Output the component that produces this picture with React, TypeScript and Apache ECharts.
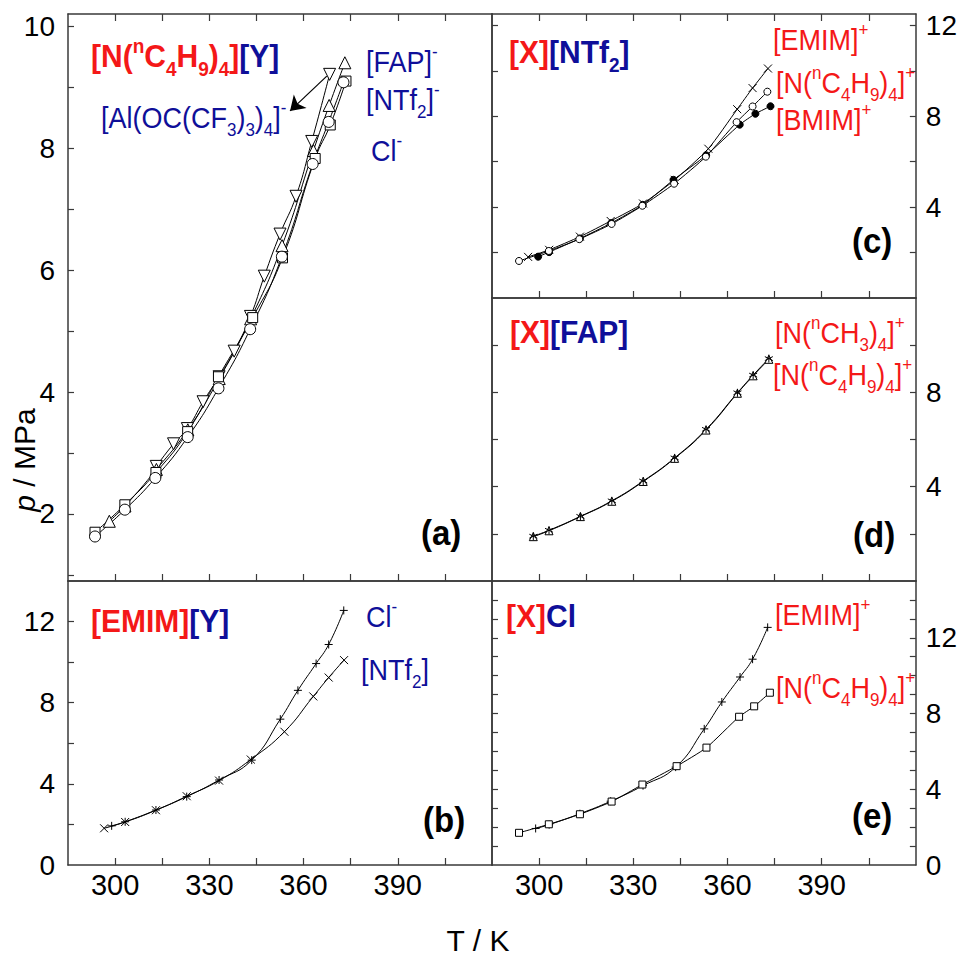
import { useEffect, useRef } from "react";
import * as echarts from "echarts";

const FONT = "'Liberation Sans', Arial, Helvetica, sans-serif";
const RED = "#f41818";
const BLUE = "#0f0f99";
const BLACK = "#000000";
const AXIS = "#3a3a3a";

// Temperature axis shared by all panels (K)
const T_MIN = 285;
const T_MAX = 420;
const T_TICKS = [300, 315, 330, 345, 360, 375, 390, 405];
const T_LABELS = [300, 330, 360, 390];

// Pressure axes (MPa) per panel
const P_A_RANGE = [0.9, 10.2];
const P_A_TICKS = [1, 2, 3, 4, 5, 6, 7, 8, 9, 10];
const P_A_LABELS = [2, 4, 6, 8, 10];
const P_B_RANGE = [0, 14];
const P_B_TICKS = [2, 4, 6, 8, 10, 12];
const P_B_LABELS = [0, 4, 8, 12];
const P_C_RANGE = [0, 12.5];
const P_C_TICKS = [2, 4, 6, 8, 10, 12];
const P_C_LABELS = [4, 8, 12];
const P_D_RANGE = [0, 12];
const P_D_TICKS = [2, 4, 6, 8, 10];
const P_D_LABELS = [4, 8];
const P_E_RANGE = [0, 15];
const P_E_TICKS = [1, 2, 3, 4, 5, 6, 7, 8, 9, 10, 11, 12, 13, 14];
const P_E_LABELS = [0, 4, 8, 12];

// [N(nC4H9)4][FAP]
const T_N4444_FAP = [298.15, 303.15, 313.15, 323.15, 333.15, 343.15, 353.15, 363.15, 368.15, 373.15];
const P_N4444_FAP = [1.88, 2.13, 2.73, 3.38, 4.22, 5.2, 6.4, 7.96, 8.7, 9.4];
// [N(nC4H9)4][NTf2]
const T_N4444_NTF2 = [293.6, 303.1, 312.8, 323.1, 332.9, 343.0, 353.1, 362.9, 368.0, 372.7];
const P_N4444_NTF2 = [1.63, 2.07, 2.59, 3.26, 4.06, 5.03, 6.22, 7.74, 8.43, 9.08];
// [N(nC4H9)4]Cl
const T_N4444_CL = [293.6, 303.1, 313.0, 323.1, 332.9, 343.8, 353.3, 363.7, 368.5, 373.5];
const P_N4444_CL = [1.7, 2.15, 2.68, 3.35, 4.25, 5.22, 6.2, 7.83, 8.38, 9.1];
// [N(nC4H9)4][Al(OC(CF3)3)4]
const T_N4444_AL = [313.1, 318.6, 323.0, 328.0, 333.1, 337.9, 343.1, 347.5, 352.5, 357.6, 362.6, 368.3];
const P_N4444_AL = [2.78, 3.15, 3.4, 3.84, 4.25, 4.67, 5.24, 5.9, 6.59, 7.21, 8.11, 9.21];
// [EMIM]Cl
const T_EMIM_CL = [298.9, 303.2, 313.0, 322.8, 333.1, 343.5, 352.6, 358.2, 364.0, 368.0, 372.8];
const P_EMIM_CL = [1.93, 2.13, 2.71, 3.37, 4.19, 5.17, 7.19, 8.61, 9.93, 10.87, 12.55];
// [EMIM][NTf2]
const T_EMIM_NTF2 = [296.5, 303.2, 313.0, 322.8, 333.1, 343.2, 353.9, 363.1, 368.0, 372.9];
const P_EMIM_NTF2 = [1.81, 2.12, 2.7, 3.39, 4.16, 5.2, 6.57, 8.31, 9.24, 10.1];
// [BMIM][NTf2]
const T_BMIM_NTF2 = [299.7, 303.2, 313.0, 323.0, 333.0, 342.8, 353.2, 363.9, 368.9, 373.7];
const P_BMIM_NTF2 = [1.82, 2.02, 2.62, 3.3, 4.1, 5.2, 6.28, 7.63, 8.11, 8.44];
// [N(nCH3)4][FAP]
const T_N1111_FAP = [298.15, 303.15, 313.15, 323.15, 333.15, 343.15, 353.15, 363.15, 368.15, 373.15];
const P_N1111_FAP = [1.9, 2.15, 2.74, 3.4, 4.24, 5.22, 6.43, 7.98, 8.73, 9.43];

// Marker shapes
const DOWN_TRI = "path://M0,0L20,0L10,17.3Z";
const CROSS = "path://M0,0L10,10M0,10L10,0";
const PLUS = "path://M5,0L5,10M0,5L10,5";
const STAR = "path://M5,0L5,10M0.67,2.5L9.33,7.5M0.67,7.5L9.33,2.5";

const pts = (T: number[], P: number[]) => T.map((t, i) => [t, P[i]]);

function curve(grid: number, T: number[], P: number[], symbol: string, size: number, fill: string, smooth: number | boolean) {
  return {
    type: "line",
    xAxisIndex: grid * 2,
    yAxisIndex: grid * 2,
    data: pts(T, P),
    symbol,
    symbolSize: size,
    smooth,
    showSymbol: true,
    silent: true,
    lineStyle: { color: "#000", width: 1 },
    itemStyle: { color: fill, borderColor: "#000", borderWidth: 1 },
    emphasis: { disabled: true },
  };
}

function xAxes(grid: number, labels: boolean, topTicks: boolean) {
  const line = { show: true, onZero: false, lineStyle: { color: AXIS, width: 1.5 } };
  return [
    {
      type: "value", gridIndex: grid, position: "bottom", min: T_MIN, max: T_MAX,
      axisLine: line,
      axisTick: { show: true, inside: true, length: 7, customValues: T_TICKS, lineStyle: { color: AXIS, width: 1.2 } },
      axisLabel: { show: labels, customValues: T_LABELS, fontSize: 29, color: "#000", fontFamily: FONT, margin: 5 },
      splitLine: { show: false },
    },
    {
      type: "value", gridIndex: grid, position: "top", min: T_MIN, max: T_MAX,
      axisLine: line,
      axisTick: { show: topTicks, inside: true, length: 7, customValues: T_TICKS, lineStyle: { color: AXIS, width: 1.2 } },
      axisLabel: { show: false },
      splitLine: { show: false },
    },
  ];
}

function yAxes(grid: number, range: number[], ticks: number[], labels: number[], side: "left" | "right") {
  const line = { show: true, onZero: false, lineStyle: { color: AXIS, width: 1.5 } };
  const mk = (pos: "left" | "right") => ({
    type: "value", gridIndex: grid, position: pos, min: range[0], max: range[1],
    axisLine: line,
    axisTick: {
      show: pos === side || side === "right",
      inside: true, length: 6, customValues: ticks, lineStyle: { color: AXIS, width: 1.2 },
    },
    axisLabel: {
      show: pos === side, customValues: labels, fontSize: 28, color: "#000", fontFamily: FONT,
      margin: side === "left" ? 13 : 10,
    },
    splitLine: { show: false },
  });
  return [mk("left"), mk("right")];
}

// Rich text with sub- (_{..}) and superscripts (^{..}); baseline kept fixed when stretched
function chem(parts: [string, string][], size: number, bold: boolean, x: number, baseline: number, stretch = 1) {
  const L = Math.round(size * 1.3);
  const s = Math.round(size * 0.64);
  const base = L / 2 + 0.35 * size;
  const hSub = 2 * (L - (base + 0.27 * size - 0.35 * s));
  const hSup = 2 * (base - 0.45 * size - 0.35 * s);
  const weight = bold ? "bold" : "normal";
  const rich: Record<string, any> = {};
  let text = "";
  parts.forEach(([color, markup], k) => {
    const key = "c" + k;
    rich[key + "n"] = { fill: color, fontSize: size, fontFamily: FONT, fontWeight: weight, lineHeight: L };
    rich[key + "d"] = { fill: color, fontSize: s, fontFamily: FONT, fontWeight: weight, lineHeight: hSub, height: hSub, verticalAlign: "bottom" };
    rich[key + "u"] = { fill: color, fontSize: s, fontFamily: FONT, fontWeight: weight, lineHeight: hSup, height: hSup, verticalAlign: "top" };
    const re = /([_^])\{([^}]*)\}/g;
    let last = 0;
    let m: RegExpExecArray | null;
    while ((m = re.exec(markup))) {
      if (m.index > last) text += `{${key}n|${markup.slice(last, m.index)}}`;
      text += `{${key}${m[1] === "_" ? "d" : "u"}|${m[2]}}`;
      last = re.lastIndex;
    }
    if (last < markup.length) text += `{${key}n|${markup.slice(last)}}`;
  });
  return {
    type: "text",
    x,
    y: baseline - base,
    originX: 0,
    originY: base,
    scaleY: stretch,
    z: 20,
    silent: true,
    style: { text, rich, align: "left", verticalAlign: "top" },
  };
}

export default function App() {
  const ref = useRef<HTMLDivElement>(null);
  useEffect(() => {
    if (!ref.current) return;
    const chart = echarts.init(ref.current, undefined, { renderer: "svg" });
    const R = 1.1; // taller lettering of the plain labels
    const option = {
      animation: false,
      backgroundColor: "#fff",
      grid: [
        { left: 68, top: 14, width: 424, height: 567 },
        { left: 68, top: 581, width: 424, height: 284 },
        { left: 492, top: 14, width: 424, height: 284 },
        { left: 492, top: 298, width: 424, height: 283 },
        { left: 492, top: 581, width: 424, height: 284 },
      ],
      xAxis: [
        ...xAxes(0, false, true),
        ...xAxes(1, true, false),
        ...xAxes(2, false, true),
        ...xAxes(3, false, false),
        ...xAxes(4, true, false),
      ],
      yAxis: [
        ...yAxes(0, P_A_RANGE, P_A_TICKS, P_A_LABELS, "left"),
        ...yAxes(1, P_B_RANGE, P_B_TICKS, P_B_LABELS, "left"),
        ...yAxes(2, P_C_RANGE, P_C_TICKS, P_C_LABELS, "right"),
        ...yAxes(3, P_D_RANGE, P_D_TICKS, P_D_LABELS, "right"),
        ...yAxes(4, P_E_RANGE, P_E_TICKS, P_E_LABELS, "right"),
      ],
      series: [
        // (a)
        curve(0, T_N4444_AL, P_N4444_AL, DOWN_TRI, 12, "#fff", true),
        curve(0, T_N4444_FAP, P_N4444_FAP, "triangle", 12, "#fff", true),
        curve(0, T_N4444_CL, P_N4444_CL, "rect", 10, "#fff", true),
        curve(0, T_N4444_NTF2, P_N4444_NTF2, "circle", 11, "#fff", true),
        {
          type: "lines",
          coordinateSystem: "cartesian2d",
          xAxisIndex: 0,
          yAxisIndex: 0,
          silent: true,
          symbol: ["none", "arrow"],
          symbolSize: 14,
          lineStyle: { color: "#000", width: 1.2, opacity: 1 },
          data: [{ coords: [[367.4, 9.18], [355.7, 8.61]] }],
        },
        // (b)
        curve(1, T_EMIM_NTF2, P_EMIM_NTF2, CROSS, 8, "rgba(0,0,0,0)", true),
        curve(1, T_EMIM_CL, P_EMIM_CL, PLUS, 8, "rgba(0,0,0,0)", true),
        // (c)
        curve(2, T_EMIM_NTF2, P_EMIM_NTF2, CROSS, 8, "rgba(0,0,0,0)", 0.2),
        curve(2, T_BMIM_NTF2, P_BMIM_NTF2, "circle", 7, "#000", 0.2),
        curve(2, T_N4444_NTF2, P_N4444_NTF2, "circle", 7, "#fff", 0.2),
        // (d)
        curve(3, T_N4444_FAP, P_N4444_FAP, "triangle", 8, "#fff", true),
        curve(3, T_N1111_FAP, P_N1111_FAP, STAR, 8, "rgba(0,0,0,0)", true),
        // (e)
        curve(4, T_EMIM_CL, P_EMIM_CL, PLUS, 8, "rgba(0,0,0,0)", true),
        curve(4, T_N4444_CL, P_N4444_CL, "rect", 7, "#fff", 0.2),
      ],
      graphic: [
        // (a)
        chem([[RED, "[N(^{n}C_{4}H_{9})_{4}]"], [BLUE, "[Y]"]], 30, true, 91, 67, 1.05),
        chem([[BLUE, "[FAP]^{-}"]], 27, false, 366, 72, R),
        chem([[BLUE, "[NTf_{2}]^{-}"]], 27, false, 366, 110, R),
        chem([[BLUE, "Cl^{-}"]], 27, false, 371, 161, R),
        chem([[BLUE, "[Al(OC(CF_{3})_{3})_{4}]^{-}"]], 27, false, 101, 128, R),
        chem([[BLACK, "(a)"]], 33, true, 421, 545, 1.05),
        // (b)
        chem([[RED, "[EMIM]"], [BLUE, "[Y]"]], 30, true, 91, 632, 1.05),
        chem([[BLUE, "Cl^{-}"]], 27, false, 366, 627, R),
        chem([[BLUE, "[NTf_{2}]"]], 27, false, 361, 680, R),
        chem([[BLACK, "(b)"]], 33, true, 423, 832, 1.05),
        // (c)
        chem([[RED, "[X]"], [BLUE, "[NTf_{2}]"]], 30, true, 509, 63, 1.05),
        chem([[RED, "[EMIM]^{+}"]], 27, false, 773, 50, R),
        chem([[RED, "[N(^{n}C_{4}H_{9})_{4}]^{+}"]], 27, false, 776, 93, R),
        chem([[RED, "[BMIM]^{+}"]], 27, false, 776, 130, R),
        chem([[BLACK, "(c)"]], 33, true, 852, 253, 1.05),
        // (d)
        chem([[RED, "[X]"], [BLUE, "[FAP]"]], 30, true, 510, 343, 1.05),
        chem([[RED, "[N(^{n}CH_{3})_{4}]^{+}"]], 27, false, 775, 343, R),
        chem([[RED, "[N(^{n}C_{4}H_{9})_{4}]^{+}"]], 27, false, 773, 385, R),
        chem([[BLACK, "(d)"]], 33, true, 853, 547, 1.05),
        // (e)
        chem([[RED, "[X]"], [BLUE, "Cl"]], 30, true, 506, 627, 1.05),
        chem([[RED, "[EMIM]^{+}"]], 27, false, 775, 625, R),
        chem([[RED, "[N(^{n}C_{4}H_{9})_{4}]^{+}"]], 27, false, 776, 698, R),
        chem([[BLACK, "(e)"]], 33, true, 852, 828, 1.05),
        // axis titles
        {
          type: "text",
          x: 24,
          y: 460,
          rotation: Math.PI / 2,
          silent: true,
          style: {
            text: "{i|p} / MPa",
            align: "center",
            verticalAlign: "middle",
            fill: "#000",
            fontSize: 30,
            fontFamily: FONT,
            rich: {
              i: { fontStyle: "italic", fontSize: 30, fontFamily: FONT, fill: "#000" },
            },
          },
        },
        {
          type: "text",
          x: 478,
          y: 940,
          silent: true,
          style: { text: "T / K", align: "center", verticalAlign: "middle", fill: "#000", fontSize: 30, fontFamily: FONT },
        },
      ],
    };
    chart.setOption(option as any);
    return () => chart.dispose();
  }, []);
  return <div ref={ref} style={{ position: "fixed", left: 0, top: 0, width: 960, height: 967 }} />;
}
